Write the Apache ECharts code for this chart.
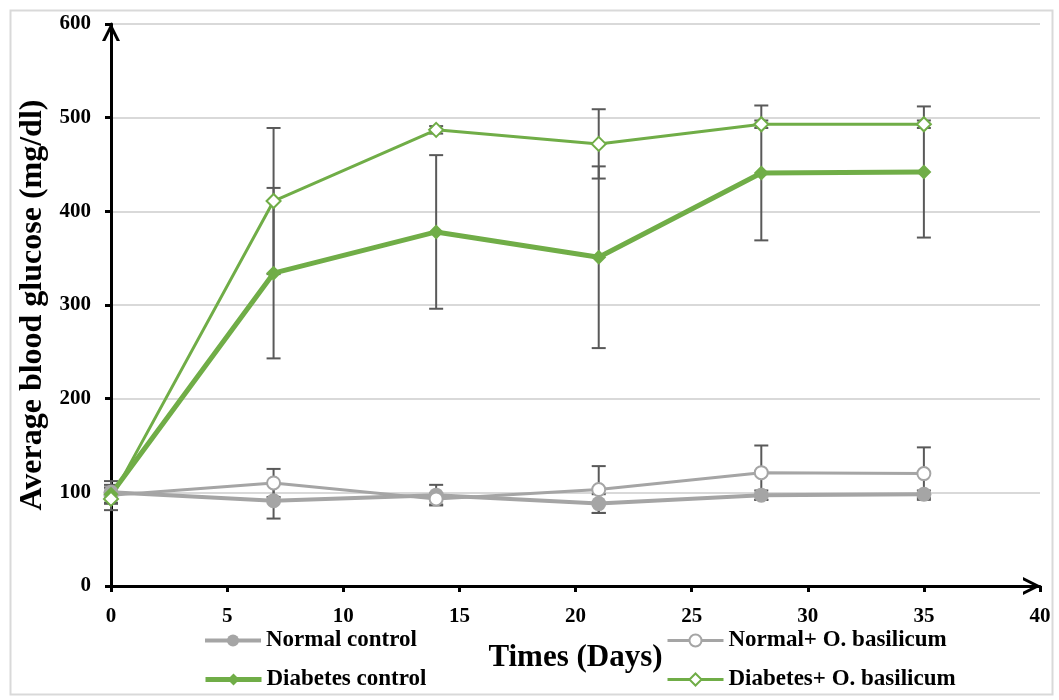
<!DOCTYPE html>
<html>
<head>
<meta charset="utf-8">
<script src="https://cdn.jsdelivr.net/npm/echarts@6/dist/echarts.min.js"></script>
<style>
  html, body { margin: 0; padding: 0; background: #fff; }
  #chart { width: 1059px; height: 700px; }
</style>
</head>
<body>
<div id="chart"></div>
<script>
// days of measurement
const days = [0, 7, 14, 21, 28, 35]

// mean blood glucose (mg/dl) and error bars
const normalControl = [100, 91, 97, 88, 97, 98]
const normalControlErr = [12, 19, 11, 10, 5, 4]
const normalBasil = [97, 110, 93, 103, 121, 120]
const normalBasilErr = [8, 15, 6, 25, 29, 28]
const diabetesControl = [98, 334, 378, 351, 441, 442]
const diabetesControlErr = [10, 91, 82, 97, 72, 70]
const diabetesBasil = [93, 411, 487, 472, 493, 493]
const diabetesBasilErr = [12, 78, 4, 37, 4, 4]

const GRAY = '#a5a5a5'
const GREEN = '#70ad47'
const FONT = '"Liberation Serif", "Times New Roman", serif'

const pts = (vals) => days.map((d, i) => [d, vals[i]])
const errPts = (vals, errs) => days.map((d, i) => [d, vals[i], errs[i]])

function errorBar(params, api) {
  const x = api.value(0), y = api.value(1), e = api.value(2)
  const top = api.coord([x, y + e])
  const bot = api.coord([x, y - e])
  const hw = 7
  const style = { stroke: '#595959', lineWidth: 2 }
  return {
    type: 'group',
    children: [
      { type: 'line', shape: { x1: top[0], y1: top[1], x2: bot[0], y2: bot[1] }, style },
      { type: 'line', shape: { x1: top[0] - hw, y1: top[1], x2: top[0] + hw, y2: top[1] }, style },
      { type: 'line', shape: { x1: bot[0] - hw, y1: bot[1], x2: bot[0] + hw, y2: bot[1] }, style },
    ]
  }
}

const errSeries = (vals, errs) => ({
  type: 'custom', renderItem: errorBar, data: errPts(vals, errs),
  encode: { x: 0, y: 1 }, z: 1, silent: true,
})

// open chevron arrow head
const chevron = 'path://M0,12 L6,0 L12,12 L9.8,12 L6,4.4 L2.2,12 Z'

const legendText = { fontFamily: FONT, fontWeight: 'bold', fontSize: 23, color: '#000' }
const legendBase = { itemWidth: 56, itemHeight: 15, itemGap: 4, textStyle: legendText, selectedMode: false }

const chart = echarts.init(document.getElementById('chart'), null, { renderer: 'canvas' })
chart.setOption({
  animation: false,
  backgroundColor: '#fff',
  graphic: [{
    type: 'rect', left: 8, top: 8, z: -10,
    shape: { width: 1042, height: 684 },
    style: { fill: 'none', stroke: '#d9d9d9', lineWidth: 2 }
  }],
  grid: { left: 111, right: 19, top: 24, bottom: 114, outerBoundsMode: 'none', containLabel: false },
  legend: [
    Object.assign({ data: ['Normal control'], left: 198, top: 624, lineStyle: { width: 4 } }, legendBase),
    Object.assign({ data: ['Normal+ O. basilicum'], left: 661, top: 624, lineStyle: { width: 3 } }, legendBase),
    Object.assign({ data: ['Diabetes control'], left: 198, top: 663, lineStyle: { width: 5 } }, legendBase),
    Object.assign({ data: ['Diabetes+ O. basilicum'], left: 661, top: 663, lineStyle: { width: 3 } }, legendBase),
  ],
  xAxis: {
    type: 'value', min: 0, max: 40, interval: 5,
    name: 'Times (Days)', nameLocation: 'middle', nameGap: 56,
    nameTextStyle: { fontFamily: FONT, fontWeight: 'bold', fontSize: 31, color: '#000' },
    axisLine: { show: true, lineStyle: { color: '#000', width: 3 }, symbol: ['none', chevron], symbolSize: [22, 18], symbolOffset: [0, -8] },
    axisTick: { show: true, length: 6, lineStyle: { color: '#000', width: 3 } },
    axisLabel: { fontFamily: FONT, fontWeight: 'bold', fontSize: 21, color: '#000', margin: 20 },
    splitLine: { show: false },
  },
  yAxis: {
    type: 'value', min: 0, max: 600, interval: 100,
    name: 'Average blood glucose (mg/dl)', nameLocation: 'middle', nameGap: 62, nameRotate: 90,
    nameTextStyle: { fontFamily: FONT, fontWeight: 'bold', fontSize: 32, color: '#000' },
    axisLine: { show: true, lineStyle: { color: '#000', width: 3 }, symbol: ['none', chevron], symbolSize: [22, 18], symbolOffset: [0, -8] },
    axisTick: { show: true, length: 6, lineStyle: { color: '#000', width: 3 } },
    axisLabel: { fontFamily: FONT, fontWeight: 'bold', fontSize: 21, color: '#000', margin: 20 },
    splitLine: { show: true, lineStyle: { color: '#d9d9d9', width: 2 } },
  },
  series: [
    errSeries(normalControl, normalControlErr),
    errSeries(normalBasil, normalBasilErr),
    errSeries(diabetesControl, diabetesControlErr),
    errSeries(diabetesBasil, diabetesBasilErr),
    {
      name: 'Normal control', type: 'line', data: pts(normalControl), z: 3,
      symbol: 'circle', symbolSize: 15,
      lineStyle: { color: GRAY, width: 4 }, itemStyle: { color: GRAY },
    },
    {
      name: 'Normal+ O. basilicum', type: 'line', data: pts(normalBasil), z: 3,
      symbol: 'emptyCircle', symbolSize: 13,
      lineStyle: { color: GRAY, width: 3 }, itemStyle: { color: GRAY, borderWidth: 2 },
    },
    {
      name: 'Diabetes control', type: 'line', data: pts(diabetesControl), z: 3,
      symbol: 'diamond', symbolSize: 15,
      lineStyle: { color: GREEN, width: 5 }, itemStyle: { color: GREEN },
    },
    {
      name: 'Diabetes+ O. basilicum', type: 'line', data: pts(diabetesBasil), z: 3,
      symbol: 'emptyDiamond', symbolSize: 14,
      lineStyle: { color: GREEN, width: 3 }, itemStyle: { color: GREEN, borderWidth: 2 },
    },
  ],
})
</script>
</body>
</html>
